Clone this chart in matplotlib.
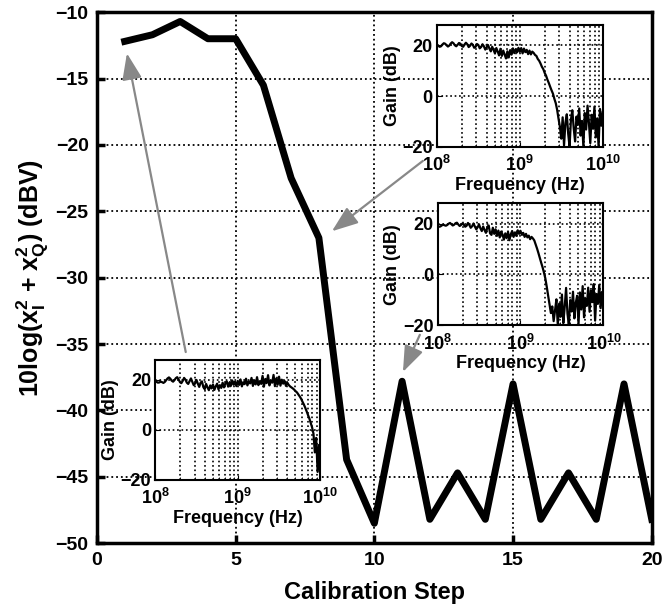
import numpy as np
import matplotlib
matplotlib.use('Agg')
import matplotlib.pyplot as plt

plt.rcParams['font.family'] = ['Liberation Sans', 'DejaVu Sans']
plt.rcParams['font.weight'] = 'bold'
plt.rcParams['mathtext.fontset'] = 'custom'
plt.rcParams['mathtext.rm'] = 'Liberation Sans:bold'
plt.rcParams['mathtext.bf'] = 'Liberation Sans:bold'
plt.rcParams['mathtext.it'] = 'Liberation Sans:bold'

# main curve
steps = [1, 2, 3, 4, 5, 6, 7, 8, 9, 10, 11, 12, 13, 14, 15, 16, 17, 18, 19, 20]
level = [-12.2, -11.7, -10.7, -12.0, -12.0, -15.5, -22.5, -27.0, -43.7, -48.5,
         -37.8, -48.2, -44.7, -48.2, -38.0, -48.2, -44.7, -48.2, -38.0, -48.2]

# inset gain traces (dB), sampled log-evenly from 1e8 to 1e10 Hz
gain_a = [
    20.0, 19.8, 19.4, 19.6, 20.3, 20.8, 20.6, 20.0, 19.5, 19.9,
    20.7, 21.2, 20.8, 20.0, 19.6, 20.2, 20.9, 20.6, 19.7, 19.4,
    20.3, 21.0, 20.4, 19.3, 19.8, 20.7, 20.2, 19.0, 19.4, 20.5,
    20.1, 18.8, 19.3, 20.4, 19.6, 18.3, 19.2, 20.1, 18.7, 17.6,
    19.4, 18.2, 16.8, 18.9, 17.5, 16.0, 18.6, 15.8, 17.9, 16.4,
    14.8, 17.6, 15.2, 18.1, 16.3, 18.8, 16.9, 18.4, 17.2, 19.0,
    17.4, 18.9, 16.8, 18.7, 17.3, 18.2, 16.5, 17.9, 16.4, 17.5,
    17.0, 16.2, 15.8, 14.6, 13.9, 12.8, 11.5, 10.6, 9.1, 8.0,
    6.4, 5.1, 3.6, 2.2, 0.9, -1.1, -2.8, -5.4, -8.9, -12.1,
    -16.8, -8.4, -19.5, -10.6, -7.2, -14.8, -20.0, -9.3, -5.6, -12.7,
    -17.9, -8.1, -11.4, -4.9, -15.6, -9.8, -20.0, -6.7, -13.2, -3.8,
    -10.5, -18.6, -7.4, -12.9, -4.2, -16.3, -8.8, -20.0, -5.1, -11.7, -6.3,
]
gain_b = [
    19.0, 18.8, 18.9, 19.3, 19.6, 19.4, 19.2, 19.5, 20.0, 20.3,
    19.8, 19.3, 19.6, 20.2, 20.4, 19.7, 19.1, 19.5, 20.1, 19.6,
    18.8, 19.2, 20.3, 19.5, 18.4, 19.0, 20.1, 18.9, 17.8, 18.6,
    19.7, 18.2, 17.1, 18.9, 17.5, 16.4, 18.6, 19.3, 16.2, 15.6,
    18.4, 16.0, 17.8, 15.2, 17.3, 14.6, 16.9, 15.8, 13.7, 16.2,
    14.3, 16.8, 13.5, 15.9, 17.1, 14.8, 16.6, 15.2, 17.4, 16.0,
    17.2, 15.6, 16.4, 14.8, 16.0, 14.6, 15.3, 13.9, 14.8, 14.2,
    13.4, 11.8, 10.2, 8.4, 6.5, 4.6, 2.8, 0.7, -1.6, -4.8,
    -8.3, -11.7, -15.2, -12.6, -18.4, -14.2, -9.8, -20.0, -11.5, -16.7,
    -7.9, -19.2, -12.8, -5.3, -15.4, -20.0, -10.1, -14.6, -6.8, -17.3,
    -11.2, -8.4, -19.6, -7.1, -13.8, -4.6, -16.9, -9.5, -12.4, -5.2,
    -14.7, -6.3, -10.9, -3.8, -18.2, -7.7, -11.6, -4.1, -13.3, -6.9, -9.4,
]
gain_c = [
    19.5, 19.2, 18.9, 19.0, 19.3, 19.1, 18.8, 19.2, 19.9, 20.6,
    21.0, 20.5, 19.7, 19.3, 19.9, 20.7, 21.1, 20.2, 19.1, 18.7,
    19.6, 20.8, 20.1, 18.9, 18.4, 19.5, 20.6, 19.2, 17.9, 18.6,
    20.0, 18.5, 17.2, 18.9, 19.4, 17.1, 16.3, 18.4, 17.0, 15.9,
    17.8, 16.6, 18.2, 16.0, 17.4, 18.5, 16.2, 17.9, 16.8, 18.9,
    17.0, 18.6, 19.4, 17.3, 19.0, 17.6, 19.8, 18.1, 19.3, 17.5,
    19.6, 18.0, 20.2, 17.4, 19.1, 18.3, 20.5, 17.8, 19.4, 18.6,
    20.8, 17.6, 19.9, 18.2, 21.1, 17.9, 19.5, 18.4, 21.6, 17.3,
    20.4, 18.7, 21.9, 17.8, 19.7, 18.9, 22.0, 17.5, 20.6, 18.1,
    21.3, 17.7, 20.1, 18.5, 19.6, 17.6, 18.9, 18.0, 17.4, 17.0,
    16.6, 16.1, 15.5, 15.0, 14.2, 13.4, 12.5, 11.3, 10.2, 8.9,
    7.5, 6.0, 4.6, 2.8, 1.0, -1.5, -9.0, -3.2, -16.8, -6.0, -20.0,
]

fig = plt.figure(figsize=(6.66, 6.09), dpi=100)
ax = fig.add_axes([0.1456, 0.108, 0.833, 0.872])
ax.plot(steps, level, color='k', lw=5)
ax.set_xlim(0, 20)
ax.set_ylim(-50, -10)
ax.set_xticks([0, 5, 10, 15, 20])
ax.set_yticks(np.arange(-50, -9, 5))
ax.grid(True, ls=':', color='k', lw=1.3)
ax.tick_params(direction='in', length=6, width=2.5, labelsize=14, pad=6)
for s in ax.spines.values():
    s.set_linewidth(2.5)
ax.set_xlabel('Calibration Step', fontsize=17, fontweight='bold', labelpad=9)
ax.set_ylabel(r'10log(x$_I^2$ + x$_Q^2$) (dBV)', fontsize=18, fontweight='bold', labelpad=4)

arrow = dict(arrowstyle='-|>,head_length=0.8,head_width=0.3', color='#888888',
             lw=1.6, mutation_scale=20, shrinkA=0, shrinkB=0)
ax.annotate('', xy=(1.08, -13.1), xytext=(3.2, -35.6), arrowprops=arrow)
ax.annotate('', xy=(8.47, -26.5), xytext=(11.75, -21.2), arrowprops=arrow)
ax.annotate('', xy=(11.03, -37.1), xytext=(11.64, -34.3), arrowprops=arrow)


def inset(rect, gain):
    a = fig.add_axes(rect)
    f = np.logspace(8, 10, len(gain))
    a.semilogx(f, gain, color='k', lw=1.6)
    a.set_xlim(1e8, 1e10)
    a.set_ylim(-20, 28)
    a.set_yticks([-20, 0, 20])
    a.set_xticks([1e8, 1e9, 1e10])
    a.set_xticklabels([r'10$^8$', r'10$^9$', r'10$^{10}$'])
    a.grid(True, which='both', ls=':', color='k', lw=1.2)
    a.tick_params(which='both', direction='in', labelsize=13)
    a.tick_params(axis='x', pad=6)
    a.tick_params(axis='y', pad=3)
    a.tick_params(which='minor', length=2)
    for s in a.spines.values():
        s.set_linewidth(1.5)
    a.set_xlabel('Frequency (Hz)', fontsize=13, fontweight='bold', labelpad=1)
    a.set_ylabel('Gain (dB)', fontsize=13, fontweight='bold', labelpad=1)
    return a


inset([0.656, 0.759, 0.249, 0.200], gain_a)
inset([0.657, 0.466, 0.249, 0.200], gain_b)
inset([0.233, 0.212, 0.248, 0.197], gain_c)

fig.savefig('out.png', dpi=100)
